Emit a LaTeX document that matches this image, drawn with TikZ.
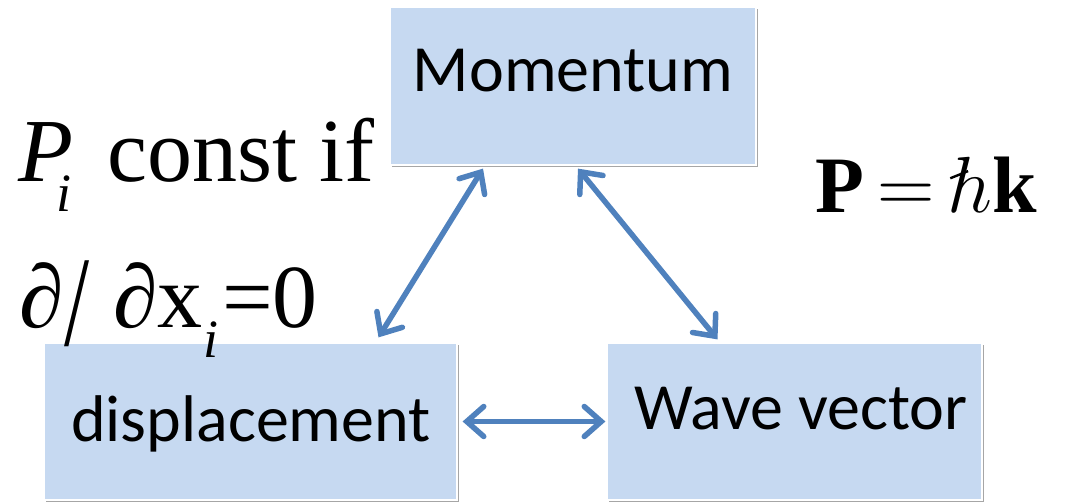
\documentclass[tikz,border=0pt]{standalone}
\usepackage{fontspec}
\usepackage{graphicx}
\setmainfont{Liberation Serif}
\setsansfont{Carlito}
\usetikzlibrary{arrows.meta,shadows,calc}
\definecolor{boxfill}{HTML}{C6D9F1}
\definecolor{arrowblue}{HTML}{4F81BD}
\newcommand{\myhslash}{\rlap{\hspace{0.6pt}\raisebox{10.5pt}{\rotatebox{22}{\rule{6pt}{0.75pt}}}}$h$}
\tikzset{
  conceptbox/.style={rectangle, fill=boxfill, draw=white, line width=1.2pt,
    drop shadow={shadow xshift=1.5pt, shadow yshift=-2pt, opacity=0.35, fill=black},
    inner sep=0pt},
  boxlabel/.style={font=\sffamily\fontsize{66}{66}\selectfont, inner sep=0pt, anchor=base},
  biarrow/.style={draw=arrowblue, line width=5.5pt,
    {Straight Barb[length=17pt,width=30pt,line cap=round]}-{Straight Barb[length=17pt,width=30pt,line cap=round]}},
  bigtext/.style={font=\fontsize{90}{90}\selectfont, inner sep=0pt, anchor=base west},
  subtext/.style={font=\fontsize{54}{54}\selectfont\itshape, inner sep=0pt, anchor=base west}
}
\begin{document}
\begin{tikzpicture}[x=1pt,y=1pt]
\useasboundingbox (0,0) rectangle (1065,503);
% boxes
\node[conceptbox, minimum width=366pt, minimum height=158pt] (mom) at (573,417) {};
\node[conceptbox, minimum width=413pt, minimum height=157pt] (disp) at (250.5,81.5) {};
\node[conceptbox, minimum width=375pt, minimum height=157pt] (wave) at (794.5,81.5) {};
% labels
\node[boxlabel] (momt) at (573,411) {Momentum};
\node[boxlabel] (dispt) at (251,61) {displacement};
\node[boxlabel] (wavet) at (801,73) {Wave vector};
% connectors
\draw[biarrow] ($(mom.south)+(-90,-3)$) -- ($(disp.north)+(128,5)$);
\draw[biarrow] ($(mom.south)+(5,-3)$) -- ($(wave.north)+(-77,3)$);
\draw[biarrow] ($(disp.east)+(5,0)$) -- ($(wave.west)+(-1,0)$);
% left text, first line
\node[bigtext] (pP) at (18,321) {\itshape P};
\node[subtext] (pi) at (56,291) {i};
\node[bigtext] (pconst) at (107,321) {const if};
% left text, second line
\node[bigtext] (dd1) at (19,175) {∂};
\node[inner sep=0pt, anchor=south west] (dslash) at (64,156) {\resizebox*{25pt}{86pt}{/}};
\node[bigtext] (ddx) at (113,175) {∂x};
\node[subtext] (xi) at (203,145) {i};
\node[bigtext] (eq0) at (222,175) {=0};
% right formula
\node[inner sep=0pt, anchor=base west] (pk) at (815,290) {\scalebox{3.2}{\fontsize{25}{25}\selectfont\textbf{P}$\,=\,$\myhslash\textbf{k}}};
\end{tikzpicture}
\end{document}
